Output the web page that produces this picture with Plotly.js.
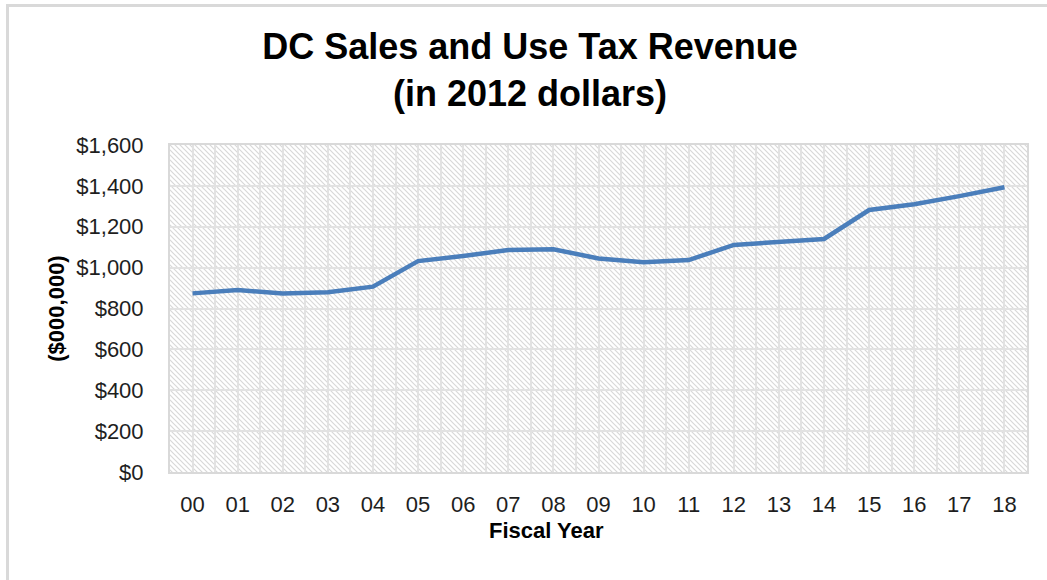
<!DOCTYPE html>
<html>
<head>
<meta charset="utf-8">
<script src="https://cdn.plot.ly/plotly-3.0.1.min.js"></script>
<style>
  html, body { margin: 0; padding: 0; background: #ffffff; }
  #wrap { position: relative; width: 1047px; height: 580px; overflow: hidden; }
  #chart { position: absolute; left: 0; top: 0; width: 1047px; height: 580px; }
  #frame { position: absolute; left: 6px; top: 4px; width: 1100px; height: 700px;
           border-left: 3px solid #d9d9d9; border-top: 3px solid #d9d9d9; pointer-events: none; }
</style>
</head>
<body>
<div id="wrap">
  <div id="chart"></div>
  <div id="frame"></div>
</div>
<script>
// Fiscal years (tick labels)
const fiscalYears = ["00","01","02","03","04","05","06","07","08","09","10","11","12","13","14","15","16","17","18"];
// Sales and use tax revenue, $000,000 (2012 dollars)
const revenue = [874, 890, 874, 879, 907, 1032, 1057, 1086, 1090, 1045, 1026, 1037, 1111, 1127, 1140, 1282, 1310, 1350, 1393];

const xIndex = fiscalYears.map((_, i) => i);

// hatched background (Excel "wide downward diagonal" look)
const p = 5;
const hatchSvg =
  '<svg xmlns="http://www.w3.org/2000/svg" width="857" height="327">' +
  '<defs><pattern id="h" patternUnits="userSpaceOnUse" width="' + p + '" height="' + p + '">' +
  '<path d="M-1,-1 L' + (p + 1) + ',' + (p + 1) + ' M-1,' + (p - 1) + ' L1,' + (p + 1) + ' M' + (p - 1) + ',-1 L' + (p + 1) + ',1" ' +
  'stroke="#d8d8d8" stroke-width="1.2"/></pattern></defs>' +
  '<rect width="100%" height="100%" fill="#ffffff"/>' +
  '<rect width="100%" height="100%" fill="url(#h)"/></svg>';
const hatchUri = 'data:image/svg+xml;charset=utf-8,' + encodeURIComponent(hatchSvg);

const font = "'Liberation Sans', Arial, sans-serif";
const gridCol = '#e2e2e2';

const trace = {
  x: xIndex,
  y: revenue,
  type: 'scatter',
  mode: 'lines',
  line: { color: '#4a7ebb', width: 4.5 },
  hoverinfo: 'skip'
};

const layout = {
  width: 1047,
  height: 580,
  paper_bgcolor: '#ffffff',
  plot_bgcolor: 'rgba(0,0,0,0)',
  margin: { l: 170, r: 20, t: 145, b: 108 },
  showlegend: false,
  font: { family: font, color: '#1e1e1e', size: 22 },
  title: {
    text: '<b>DC Sales and Use Tax Revenue<br>(in 2012 dollars)</b>',
    font: { family: font, size: 36, color: '#000000' },
    xref: 'container', x: 530 / 1047, xanchor: 'center',
    yref: 'container', y: 1 - 59 / 580, yanchor: 'top'
  },
  xaxis: {
    type: 'linear',
    range: [-0.5, fiscalYears.length - 0.5],
    tickmode: 'array',
    tickvals: xIndex,
    ticktext: fiscalYears,
    ticks: '',
    ticklabelstandoff: 12,
    showgrid: true,
    gridcolor: gridCol,
    gridwidth: 2,
    minor: { tickmode: 'linear', tick0: 0.5, dtick: 1, showgrid: true, gridcolor: gridCol, gridwidth: 2, ticks: '' },
    showline: true, linecolor: '#d9d9d9', linewidth: 2, mirror: true,
    zeroline: false,
    tickfont: { family: font, size: 22, color: '#1e1e1e' },
    fixedrange: true
  },
  yaxis: {
    range: [0, 1600],
    dtick: 200,
    tick0: 0,
    tickprefix: '$',
    tickformat: ',d',
    ticks: '',
    ticklabelstandoff: 20,
    showgrid: true,
    gridcolor: gridCol,
    gridwidth: 2,
    showline: true, linecolor: '#d9d9d9', linewidth: 2, mirror: true,
    zeroline: false,
    tickfont: { family: font, size: 22, color: '#1e1e1e' },
    title: { text: '<b>($000,000)</b>', font: { family: font, size: 22, color: '#000000' }, standoff: 6 },
    fixedrange: true
  },
  annotations: [{
    text: '<b>Fiscal Year</b>',
    xref: 'paper', yref: 'paper',
    x: (546 - 170) / 857, y: -(530 - 472) / 327,
    xanchor: 'center', yanchor: 'middle',
    showarrow: false,
    font: { family: font, size: 22, color: '#000000' }
  }],
  images: [{
    source: hatchUri,
    xref: 'paper', yref: 'paper',
    x: 0, y: 1, sizex: 1, sizey: 1,
    xanchor: 'left', yanchor: 'top',
    sizing: 'stretch',
    layer: 'below'
  }]
};

Plotly.newPlot('chart', [trace], layout, { displayModeBar: false, staticPlot: true });
</script>
</body>
</html>
